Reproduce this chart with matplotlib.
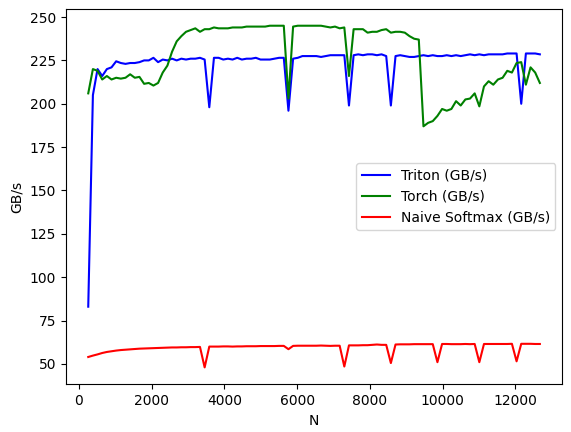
import matplotlib
matplotlib.use("Agg")
import matplotlib.pyplot as plt

N = [128 * i for i in range(2, 100)]
triton = [83, 205, 220, 216, 220, 221, 224.5, 223.5, 223, 223.5, 223.5, 224, 225, 225, 226.5, 224, 225.5, 225, 226,
          225, 226, 225.5, 226, 226, 226.5, 225.5, 198, 226.5, 226.5, 225.5, 226, 225.5, 226.5, 225.5, 226, 226, 226.5,
          225.5, 225.5, 225.5, 226, 226.5, 226.5, 196, 226, 226.5, 227.5, 227.5, 227.5, 227.5, 227, 227.5, 228, 228,
          228, 228, 199, 228, 228.5, 228, 228.5, 228.5, 228, 228.5, 227.5, 199, 227.5, 228, 227.5, 227, 227, 227.5,
          228, 227.5, 228, 227.5, 227.5, 228, 227.5, 228, 227.5, 228, 228.5, 228, 228.5, 228, 228.5, 228.5, 228.5,
          228.5, 229, 229, 229, 200, 229, 229, 229, 228.5]
torch = [206, 220, 219, 214, 216, 214, 215, 214.5, 215, 217, 215, 215.5, 211.5, 212, 210.5, 212, 218, 222, 230, 236,
         239, 241.5, 242.5, 243.5, 241.5, 243, 243, 244, 243.5, 243.5, 243.5, 244, 244, 244, 244.5, 244.5, 244.5,
         244.5, 244.5, 245, 245, 245, 245, 203, 244.5, 245, 245, 245, 245, 245, 245, 244.5, 244, 244.5, 243.5, 244,
         216, 243, 243, 243, 241, 241.5, 241.5, 242.5, 243, 241, 241.5, 241.5, 241, 239, 237.5, 237, 187, 189, 190,
         193, 197, 196, 197, 201.5, 199, 202.5, 203, 206, 198.5, 210, 213, 211, 214, 215, 219, 218, 223.5, 224, 211,
         221, 218, 212]
naive = [54, 54.8, 55.5, 56.3, 56.9, 57.3, 57.7, 58, 58.2, 58.4, 58.6, 58.8, 58.9, 59, 59.1, 59.2, 59.3, 59.4, 59.5,
         59.5, 59.6, 59.6, 59.7, 59.7, 59.8, 48, 60, 60, 60, 60.1, 60.1, 60, 60.1, 60.1, 60.2, 60.2, 60.2, 60.3,
         60.3, 60.3, 60.3, 60.4, 60.4, 58.5, 60.4, 60.5, 60.5, 60.5, 60.5, 60.5, 60.6, 60.5, 60.4, 60.5, 60.5, 48.5,
         60.7, 60.7, 60.7, 60.8, 60.8, 61, 61.2, 61, 61, 50.5, 61.2, 61.3, 61.3, 61.3, 61.4, 61.4, 61.4, 61.4, 61.4,
         51, 61.5, 61.5, 61.4, 61.4, 61.4, 61.5, 61.4, 61.5, 51, 61.5, 61.5, 61.5, 61.5, 61.5, 61.5, 61.6, 51.5,
         61.6, 61.6, 61.6, 61.5, 61.5]

fig, ax = plt.subplots(figsize=(5.71, 4.32), dpi=100)
ax.plot(N, triton, color="blue", label="Triton (GB/s)")
ax.plot(N, torch, color="green", label="Torch (GB/s)")
ax.plot(N, naive, color="red", label="Naive Softmax (GB/s)")
ax.set_xlabel("N")
ax.set_ylabel("GB/s")
ax.legend(loc="center right")
fig.subplots_adjust(left=0.115, right=0.985, top=0.98, bottom=0.11)
fig.savefig("out.png")
